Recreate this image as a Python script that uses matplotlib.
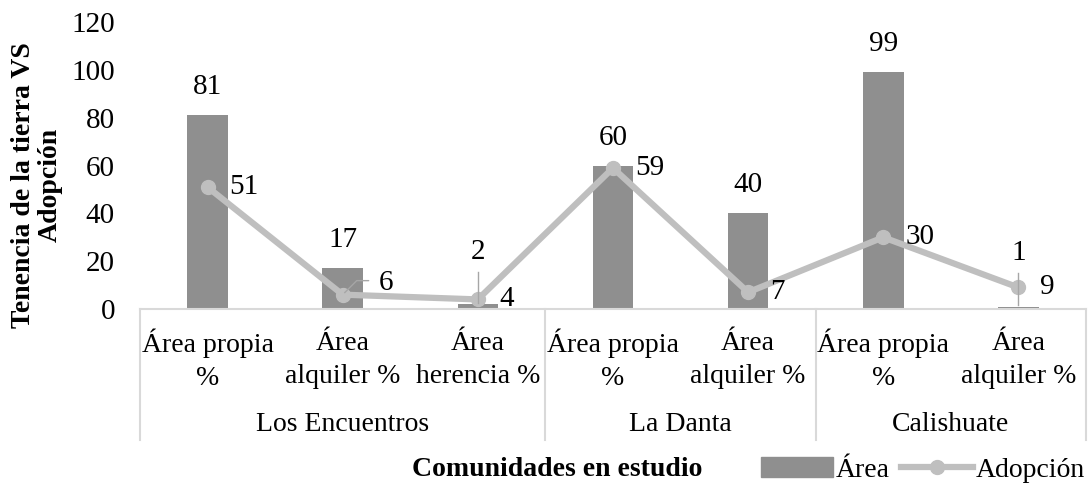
import matplotlib.pyplot as plt
import matplotlib.transforms as mtransforms
from matplotlib.lines import Line2D
from matplotlib.patches import Patch

plt.rcParams['font.family'] = ['Liberation Serif', 'DejaVu Serif']

categorias = ["Área propia\n%", "Área\nalquiler %", "Área\nherencia %",
              "Área propia\n%", "Área\nalquiler %",
              "Área propia\n%", "Área\nalquiler %"]
comunidades = ["Los Encuentros", "La Danta", "Calishuate"]
tamano_grupo = [3, 2, 2]
area = [81, 17, 2, 60, 40, 99, 1]
adopcion = [51, 6, 4, 59, 7, 30, 9]

color_barra = "#8f8f8f"
color_linea = "#bfbfbf"
color_borde = "#d9d9d9"

fig = plt.figure(figsize=(10.91, 4.84), dpi=100)
ax = fig.add_axes([0.1283, 0.3616, 0.8671, 0.5925])

x = list(range(len(categorias)))
ax.bar(x, area, width=0.3, color=color_barra, zorder=2)
ax.plot(x, adopcion, color=color_linea, lw=4.5, marker="o", ms=10,
        solid_capstyle="round", zorder=3)

ax.set_xlim(-0.5, len(categorias) - 0.5)
ax.set_ylim(0, 120)
ax.set_yticks(range(0, 121, 20))
ax.tick_params(axis="y", length=0, pad=18, labelsize=21)
ax.set_xticks([])
for s in ["top", "right", "left"]:
    ax.spines[s].set_visible(False)
ax.spines["bottom"].set_color(color_borde)
ax.spines["bottom"].set_linewidth(1.5)

# etiquetas de las barras (algunas con línea guía)
guia = {2: 15.5, 6: 15}
for i, v in enumerate(area):
    if i in guia:
        ax.plot([i, i], [v + 0.5, guia[i]], color="#a6a6a6", lw=1, zorder=4)
        ax.annotate(str(v), (i, guia[i]), xytext=(0, 20), textcoords="offset pixels",
                    ha="center", va="center", fontsize=21)
    else:
        ax.annotate(str(v), (i, v), xytext=(0, 28), textcoords="offset pixels",
                    ha="center", va="center", fontsize=21)

# etiquetas de la línea
for i, v in enumerate(adopcion):
    dx, dy = 22, 0
    if i == 1:
        dx, dy = 36, 12
        ax.annotate("", (i, v), xytext=(26, 14), textcoords="offset pixels",
                    arrowprops=dict(arrowstyle="-", color="#a6a6a6", lw=1,
                                    shrinkA=0, shrinkB=2,
                                    connectionstyle="angle,angleA=0,angleB=45,rad=0"))
    ax.annotate(str(v), (i, v), xytext=(dx, dy), textcoords="offset pixels",
                ha="left", va="center", fontsize=21)

# categorías y grupos bajo el eje
trans = mtransforms.blended_transform_factory(ax.transData, ax.transAxes)
for i, c in enumerate(categorias):
    ax.text(i, -0.178, c, transform=trans, ha="center", va="center",
            fontsize=20, linespacing=1.4)

inicio = -0.5
bordes = [inicio]
for nombre, n in zip(comunidades, tamano_grupo):
    ax.text(inicio + n / 2, -0.404, nombre, transform=trans, ha="center",
            va="center", fontsize=20)
    inicio += n
    bordes.append(inicio)
for b in bordes:
    ax.add_line(Line2D([b, b], [0, -0.457], transform=trans, color=color_borde,
                       lw=1.5, clip_on=False))

ax.set_ylabel("Tenencia de la tierra VS\nAdopción", fontsize=20,
              fontweight="bold", linespacing=1.1)
ax.yaxis.set_label_coords(-0.082, 0.432)

fig.text(0.5105, 0.029, "Comunidades en estudio", ha="center", va="center",
         fontsize=20, fontweight="bold")

handles = [Patch(color=color_barra),
           Line2D([], [], color=color_linea, lw=4.5, marker="o", ms=10)]
fig.legend(handles, ["Área", "Adopción"], loc="center right",
           bbox_to_anchor=(1.0, 0.029), ncol=2, frameon=False, fontsize=20,
           handlelength=2.6, handletextpad=0.1, columnspacing=0.4,
           borderaxespad=0.0, borderpad=0.2)

fig.savefig("out.png", dpi=100)
